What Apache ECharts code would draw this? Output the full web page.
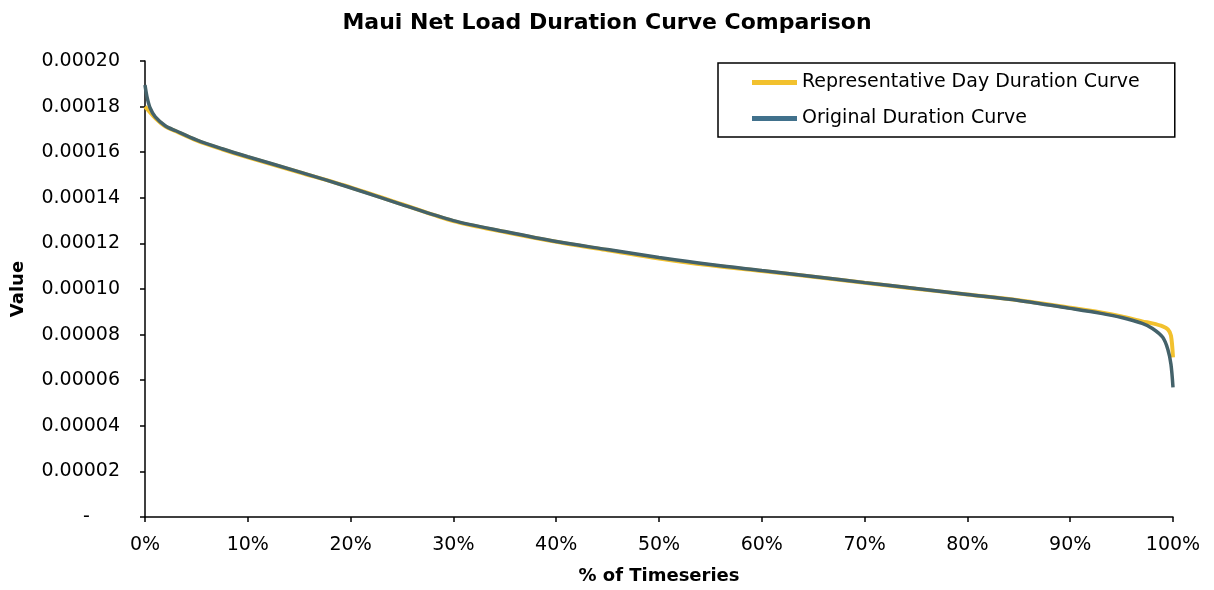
<!DOCTYPE html>
<html>
<head>
<meta charset="utf-8">
<title>Maui Net Load Duration Curve Comparison</title>
<script src="https://cdn.jsdelivr.net/npm/echarts@6/dist/echarts.min.js"></script>
<style>
  html, body { margin: 0; padding: 0; background: #fff; }
  #chart { width: 1214px; height: 590px; }
</style>
</head>
<body>
<div id="chart"></div>
<script>
  // share of timeseries (x) for each sample
  const pct = [0, 0.002, 0.005, 0.01, 0.02, 0.03, 0.05, 0.075, 0.1, 0.15, 0.2, 0.25, 0.3, 0.35, 0.4,
    0.45, 0.5, 0.55, 0.6, 0.65, 0.7, 0.75, 0.8, 0.85, 0.9, 0.93, 0.95, 0.97, 0.98, 0.99, 0.995, 0.998, 1]

  // representative day duration curve
  const repValues = [0.000180, 0.000179, 0.0001775, 0.000175, 0.0001712, 0.0001692, 0.0001652, 0.0001613,
    0.0001578, 0.0001512, 0.0001446, 0.0001372, 0.0001298, 0.000125, 0.0001207, 0.000117, 0.0001134,
    0.0001104, 0.0001079, 0.0001054, 0.0001027, 0.0001001, 0.0000976, 0.0000951, 0.0000918, 0.0000897,
    0.000088, 0.0000858, 0.0000849, 0.0000836, 0.0000823, 0.0000796, 0.00007]

  // original duration curve
  const origValues = [0.0001895, 0.0001842, 0.0001794, 0.0001755, 0.0001715, 0.0001694, 0.0001654, 0.0001615,
    0.000158, 0.0001514, 0.0001444, 0.000137, 0.00013, 0.0001252, 0.0001208, 0.0001173, 0.0001138,
    0.0001107, 0.0001081, 0.0001055, 0.0001028, 0.0001002, 0.0000976, 0.000095, 0.0000915, 0.0000893,
    0.0000875, 0.0000849, 0.0000827, 0.0000788, 0.0000735, 0.000067, 0.0000569]

  const font = '"DejaVu Sans", Arial, sans-serif'

  const chart = echarts.init(document.getElementById('chart'))

  chart.setOption({
    animation: false,
    textStyle: { fontFamily: font },
    title: {
      text: 'Maui Net Load Duration Curve Comparison',
      left: 'center',
      top: 7,
      textStyle: { fontSize: 22, fontWeight: 'bold', color: '#000', fontFamily: font }
    },
    legend: {
      orient: 'vertical',
      left: 718,
      top: 63,
      padding: [10, 35, 9, 34],
      itemGap: 17,
      itemWidth: 45,
      itemHeight: 5,
      icon: 'rect',
      borderColor: '#000',
      borderWidth: 1.5,
      textStyle: { fontSize: 19, color: '#000', fontFamily: font },
      data: ['Representative Day Duration Curve', 'Original Duration Curve']
    },
    grid: { left: 145, right: 41, top: 61, bottom: 72 },
    xAxis: {
      type: 'value',
      min: 0,
      max: 1,
      interval: 0.1,
      name: '% of Timeseries',
      nameLocation: 'middle',
      nameGap: 50,
      nameTextStyle: { fontSize: 18, fontWeight: 'bold', color: '#000', fontFamily: font },
      axisLine: { lineStyle: { color: '#000', width: 1.5 } },
      axisTick: { length: 5, lineStyle: { color: '#000', width: 1.5 } },
      axisLabel: {
        fontSize: 19,
        color: '#000',
        margin: 19,
        formatter: v => Math.round(v * 100) + '%'
      },
      splitLine: { show: false }
    },
    yAxis: {
      type: 'value',
      min: 0,
      max: 0.0002,
      interval: 0.00002,
      name: 'Value',
      nameLocation: 'middle',
      nameGap: 118,
      nameTextStyle: { fontSize: 18, fontWeight: 'bold', color: '#000', fontFamily: font },
      axisLine: { show: true, lineStyle: { color: '#000', width: 1.5 } },
      axisTick: { show: true, length: 5, lineStyle: { color: '#000', width: 1.5 } },
      axisLabel: {
        fontSize: 19,
        color: '#000',
        margin: 25,
        formatter: v => (v === 0 ? '-     ' : v.toFixed(5))
      },
      splitLine: { show: false }
    },
    series: [
      {
        name: 'Representative Day Duration Curve',
        type: 'line',
        smooth: 0.3,
        symbol: 'none',
        itemStyle: { color: '#f2c12e' },
        lineStyle: { color: '#f2c12e', width: 4 },
        data: pct.map((p, i) => [p, repValues[i]])
      },
      {
        name: 'Original Duration Curve',
        type: 'line',
        smooth: 0.3,
        symbol: 'none',
        itemStyle: { color: '#41718c' },
        lineStyle: { color: '#44626a', width: 3.5 },
        data: pct.map((p, i) => [p, origValues[i]])
      }
    ]
  })
</script>
</body>
</html>
